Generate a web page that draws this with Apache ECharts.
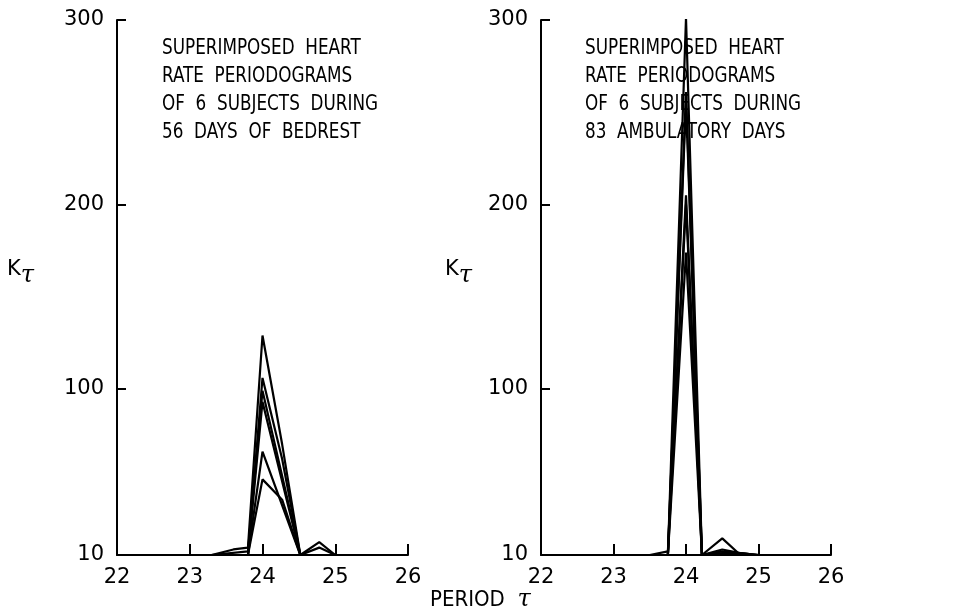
<!DOCTYPE html>
<html>
<head>
<meta charset="utf-8">
<script src="https://cdn.jsdelivr.net/npm/echarts@6/dist/echarts.min.js"></script>
<style>html,body{margin:0;padding:0;background:#fff}#c{width:954px;height:616px}</style>
</head>
<body>
<div id="c"></div>
<script>
// ---- data: [period tau, K_tau] ----
const xTicks = [22, 23, 24, 25, 26];
const yLabelValues = [10, 100, 200, 300];
const yTickValues = [100, 200, 300];

// Left panel: 56 days of bedrest
const bedrest1 = [[23.3,10],[23.6,13],[23.8,14],[24,129],[24.27,70],[24.52,10],[24.78,17],[25,10]];
const bedrest2 = [[23.8,10],[24,106],[24.27,62],[24.52,10]];
const bedrest3 = [[23.3,10],[23.8,12],[24,99],[24.52,10]];
const bedrest4 = [[23.8,10],[24,93],[24.52,10],[24.78,14],[25,10]];
const bedrest5 = [[23.8,10],[24,66],[24.52,10]];
const bedrest6 = [[23.8,10],[24,51],[24.27,40],[24.52,10]];

// Right panel: 83 ambulatory days
const ambul1 = [[23.75,10],[24,301],[24.22,10],[24.5,19],[24.75,10]];
const ambul2 = [[23.75,10],[24,261],[24.22,10],[24.5,13],[24.75,11],[25,10]];
const ambul3 = [[23.75,10],[24,256],[24.22,10],[24.5,12],[25,10]];
const ambul4 = [[23.5,10],[23.75,12],[24,205],[24.22,10]];
const ambul5 = [[23.75,10],[24,200],[24.22,10],[24.5,11],[24.75,11],[25,10]];
const ambul6 = [[23.75,10],[24,174],[24.22,10]];

const leftNote = ['SUPERIMPOSED  HEART','RATE  PERIODOGRAMS','OF  6  SUBJECTS  DURING','56  DAYS  OF  BEDREST'];
const rightNote = ['SUPERIMPOSED  HEART','RATE  PERIODOGRAMS','OF  6  SUBJECTS  DURING','83  AMBULATORY  DAYS'];

const bedrest = [bedrest1,bedrest2,bedrest3,bedrest4,bedrest5,bedrest6];
const ambul = [ambul1,ambul2,ambul3,ambul4,ambul5,ambul6];

const numFont = 'DejaVu Sans';
const narrowFont = '"Liberation Sans Narrow","DejaVu Sans Condensed",sans-serif';

function xAxisDef(idx){
  return {
    gridIndex: idx, type: 'value', min: 22, max: 26, interval: 1,
    axisLine: {show: true, lineStyle: {color: '#000', width: 2}},
    axisTick: {show: true, inside: true, length: 11, lineStyle: {color: '#000', width: 2}},
    axisLabel: {color: '#000', fontFamily: numFont, fontSize: 21, margin: 12},
    splitLine: {show: false}
  };
}
function yAxisDef(idx){
  return {
    gridIndex: idx, type: 'value', min: 10, max: 300,
    axisLine: {show: true, onZero: false, lineStyle: {color: '#000', width: 2}},
    axisTick: {show: true, inside: true, length: 9, customValues: yTickValues, lineStyle: {color: '#000', width: 2}},
    axisLabel: {color: '#000', fontFamily: numFont, fontSize: 21, margin: 13, customValues: yLabelValues},
    splitLine: {show: false}
  };
}
function lineSeries(data, idx){
  return {
    type: 'line', xAxisIndex: idx, yAxisIndex: idx, data: data,
    symbol: 'none', smooth: false, animation: false,
    lineStyle: {color: '#000', width: 2.2}
  };
}
function kLabel(x){
  return {type: 'text', left: x, top: 259, style: {
    text: '{k|K}{t|τ}', fill: '#000',
    rich: {
      k: {fontFamily: numFont, fontSize: 21, fill: '#000', verticalAlign: 'top'},
      t: {fontFamily: 'DejaVu Serif', fontStyle: 'italic', fontSize: 24, fill: '#000', padding: [5,0,0,0]}
    }}};
}

const chart = echarts.init(document.getElementById('c'), null, {renderer: 'canvas'});
const series = [];
bedrest.forEach(d => series.push(lineSeries(d, 0)));
ambul.forEach(d => series.push(lineSeries(d, 1)));

chart.setOption({
  backgroundColor: '#fff',
  animation: false,
  grid: [
    {left: 117, top: 20, width: 291, height: 535},
    {left: 541, top: 20, width: 290, height: 535}
  ],
  xAxis: [xAxisDef(0), xAxisDef(1)],
  yAxis: [yAxisDef(0), yAxisDef(1)],
  series: series,
  graphic: [
    {type: 'text', x: 162, y: 34, scaleX: 0.85, style: {text: leftNote.join('\n'), font: '22px ' + narrowFont, fill: '#000', lineHeight: 28}},
    {type: 'text', x: 585, y: 34, scaleX: 0.85, style: {text: rightNote.join('\n'), font: '22px ' + narrowFont, fill: '#000', lineHeight: 28}},
    kLabel(7),
    kLabel(445),
    {type: 'text', left: 430, top: 588, style: {text: 'PERIOD  {t|τ}', font: '22px ' + narrowFont, fill: '#000',
      rich: {t: {fontFamily: 'DejaVu Serif', fontStyle: 'italic', fontSize: 24, fill: '#000'}}}}
  ]
});
</script>
</body>
</html>
